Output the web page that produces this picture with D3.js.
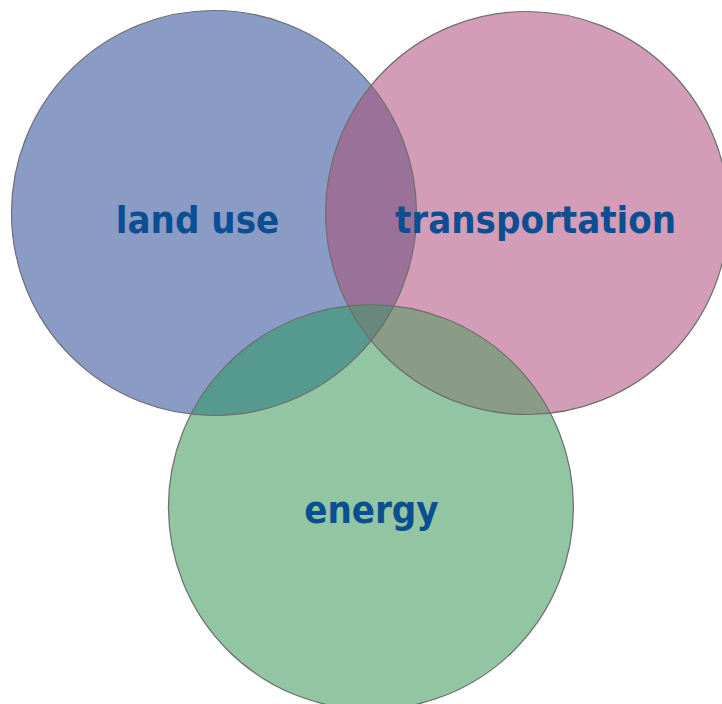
<!DOCTYPE html>
<html>
<head>
<meta charset="utf-8">
<script src="https://cdn.jsdelivr.net/npm/d3@7"></script>
<style>
  html, body { margin: 0; padding: 0; background: #fff; }
  svg { display: block; }
</style>
</head>
<body>
<div id="chart"></div>
<script>
// Venn: three overlapping sets, unit = circle radius
const setNames = ['land use', 'transportation', 'energy'];
const setX = [0, 1.546, 0.775];
const setY = [0, 0, 1.452];
const setR = [1, 0.995, 1.0];
const setColors = ['#8a9cc6', '#d39cb7', '#92c5a1'];

// overlap regions (indexes into sets) and their fill colours
const overlaps = [[0, 1], [0, 2], [1, 2], [0, 1, 2]];
const overlapColors = ['#9a7299', '#56998f', '#8a9b86', '#68877d'];

const width = 722;
const height = 704;

const x = d3.scaleLinear().domain([0, 1]).range([214, 416.5]);
const y = d3.scaleLinear().domain([0, 1]).range([213, 415.5]);
const rPx = d => x(d) - x(0);

const sets = setNames.map((name, i) => ({
    name, i, cx: x(setX[i]), cy: y(setY[i]), r: rPx(setR[i]), color: setColors[i]
}));

const svg = d3.select('#chart')
    .append('svg')
    .attr('width', width)
    .attr('height', height);

const defs = svg.append('defs');
sets.forEach(s => {
    defs.append('clipPath')
        .attr('id', `clip-${s.i}`)
        .append('circle')
        .attr('cx', s.cx)
        .attr('cy', s.cy)
        .attr('r', s.r);
});

// Base circles
svg.append('g')
    .selectAll('circle')
    .data(sets)
    .join('circle')
    .attr('cx', d => d.cx)
    .attr('cy', d => d.cy)
    .attr('r', d => d.r)
    .attr('fill', d => d.color);

// Overlaps: nest clip groups for all but the last set, then draw the last circle
overlaps.forEach((idx, k) => {
    let g = svg.append('g');
    idx.slice(0, -1).forEach(j => {
        g = g.append('g').attr('clip-path', `url(#clip-${j})`);
    });
    const last = sets[idx[idx.length - 1]];
    g.append('circle')
        .attr('cx', last.cx)
        .attr('cy', last.cy)
        .attr('r', last.r)
        .attr('fill', overlapColors[k]);
});

// Outlines on top
svg.append('g')
    .selectAll('circle')
    .data(sets)
    .join('circle')
    .attr('cx', d => d.cx)
    .attr('cy', d => d.cy)
    .attr('r', d => d.r)
    .attr('fill', 'none')
    .attr('stroke', '#6e6e6e')
    .attr('stroke-width', 1.2);

// Labels
const labelDx = [-16.5, 8.5, 0.5];
const labelDy = [20, 20, 16];
svg.append('g')
    .selectAll('text')
    .data(sets)
    .join('text')
    .attr('x', d => d.cx + labelDx[d.i])
    .attr('y', d => d.cy + labelDy[d.i])
    .attr('text-anchor', 'middle')
    .style('font-family', '"DejaVu Sans Condensed", "DejaVu Sans", sans-serif')
    .style('font-stretch', 'condensed')
    .style('font-weight', 'bold')
    .style('font-size', '38px')
    .style('fill', '#0b4f92')
    .text(d => d.name);
</script>
</body>
</html>
